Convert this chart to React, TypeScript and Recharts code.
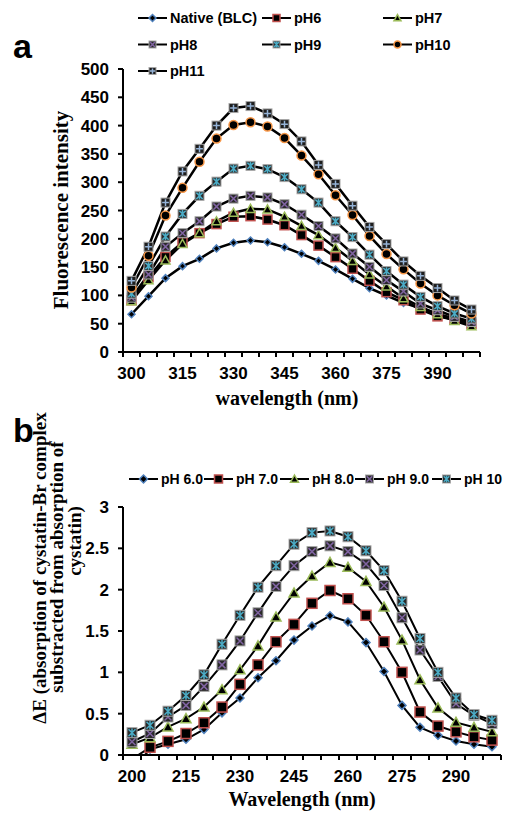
import React from 'react';
import { LineChart, Line, XAxis, YAxis } from 'recharts';

// ---- panel a: fluorescence vs wavelength ----
const wlA = [300, 305, 310, 315, 320, 325, 330, 335, 340, 345, 350, 355, 360, 365, 370, 375, 380, 385, 390, 395, 400];
const nativeA = [66.7, 98.6, 130.5, 151.7, 164.7, 183, 193, 197, 194, 185, 173.5, 161, 145.8, 129.3, 112.7, 99.8, 86.8, 77.3, 67.9, 59, 50];
const ph6A = [91.5, 132, 168, 194, 210, 226, 239, 240, 234, 224, 206.6, 188, 167.6, 147, 125.7, 105.7, 91.5, 75, 63, 57, 50];
const ph7A = [90, 127, 162, 191, 210, 231, 246, 253, 252, 239, 223, 206.6, 184, 161, 137, 116, 95, 79.7, 66.7, 55, 45.5];
const ph8A = [96, 137, 186, 210, 231, 257, 271, 276, 273, 261, 242.6, 222.5, 200.7, 174, 150.5, 127, 107, 85.6, 73.8, 62, 53];
const ph9A = [103, 152, 204, 244, 276, 301, 324, 329, 323, 309, 287.5, 264, 231, 203, 172, 143, 119, 97.4, 81, 68, 59];
const ph10A = [114, 170, 241, 290, 336, 377, 401, 406, 398.5, 378, 347, 314, 277, 242, 205, 173, 146, 121, 100, 82.6, 68];
const ph11A = [125.7, 186, 264, 319, 359, 400, 431, 434.5, 421.5, 402.6, 372, 330.6, 297, 258.5, 221, 190.7, 160, 134.6, 113, 91, 75];
const labelsA = [300, 315, 330, 345, 360, 375, 390];
const yTicksA = [0, 50, 100, 150, 200, 250, 300, 350, 400, 450, 500];

// ---- panel b: delta E vs wavelength ----
const wlB = [200, 205, 210, 215, 220, 225, 230, 235, 240, 245, 250, 255, 260, 265, 270, 275, 280, 285, 290, 295, 300];
const ph60B = [-0.18, 0.07, 0.13, 0.19, 0.31, 0.51, 0.69, 0.935, 1.14, 1.39, 1.56, 1.685, 1.61, 1.36, 1.01, 0.6, 0.335, 0.24, 0.17, 0.13, 0.1];
const ph70B = [-0.05, 0.093, 0.165, 0.26, 0.39, 0.58, 0.855, 1.09, 1.37, 1.58, 1.835, 1.99, 1.89, 1.69, 1.37, 1.0, 0.52, 0.35, 0.28, 0.22, 0.18];
const ph80B = [0.13, 0.21, 0.34, 0.44, 0.58, 0.79, 1.03, 1.32, 1.67, 1.96, 2.165, 2.33, 2.27, 2.1, 1.79, 1.39, 0.91, 0.57, 0.395, 0.335, 0.28];
const ph90B = [0.16, 0.26, 0.46, 0.6, 0.83, 1.09, 1.38, 1.72, 2.04, 2.29, 2.46, 2.53, 2.46, 2.31, 2.05, 1.66, 1.27, 0.95, 0.62, 0.48, 0.38];
const ph100B = [0.27, 0.36, 0.53, 0.72, 0.97, 1.34, 1.69, 2.03, 2.29, 2.55, 2.69, 2.71, 2.64, 2.47, 2.23, 1.86, 1.41, 1.0, 0.69, 0.49, 0.42];
const labelsB = [200, 215, 230, 245, 260, 275, 290];
const yTicksB = [0, 0.5, 1, 1.5, 2, 2.5, 3];

const rowsA = wlA.map((wl, i) => ({
  wl, native: nativeA[i], ph6: ph6A[i], ph7: ph7A[i], ph8: ph8A[i], ph9: ph9A[i], ph10: ph10A[i], ph11: ph11A[i],
}));
const rowsB = wlB.map((wl, i) => ({
  wl, ph60: ph60B[i], ph70: ph70B[i], ph80: ph80B[i], ph90: ph90B[i], ph100: ph100B[i],
}));

// tick marks sit between categories, labels on categories
const boundaries = (wl: number[]) => [wl[0] - 2.5, ...wl.map(w => w + 2.5)];

const seriesA = [
  { key: 'native', name: 'Native (BLC)', kind: 'diamond' },
  { key: 'ph6', name: 'pH6', kind: 'square' },
  { key: 'ph7', name: 'pH7', kind: 'triangle' },
  { key: 'ph8', name: 'pH8', kind: 'xbox' },
  { key: 'ph9', name: 'pH9', kind: 'star' },
  { key: 'ph10', name: 'pH10', kind: 'circle' },
  { key: 'ph11', name: 'pH11', kind: 'plus' },
];
const seriesB = [
  { key: 'ph60', name: 'pH 6.0', kind: 'diamond' },
  { key: 'ph70', name: 'pH 7.0', kind: 'square' },
  { key: 'ph80', name: 'pH 8.0', kind: 'triangle' },
  { key: 'ph90', name: 'pH 9.0', kind: 'xbox' },
  { key: 'ph100', name: 'pH 10', kind: 'star' },
];

const SANS = '"Liberation Sans", Arial, sans-serif';
const SERIF = '"Liberation Serif", "Times New Roman", serif';

const Marker = ({ kind, cx, cy, size }: { kind: string; cx: number; cy: number; size: number }) => {
  const r = size / 2;
  switch (kind) {
    case 'diamond':
      return <polygon points={`${cx},${cy - r} ${cx + r},${cy} ${cx},${cy + r} ${cx - r},${cy}`} fill="#000" stroke="#4F81BD" strokeWidth={1.5} />;
    case 'square':
      return <rect x={cx - r} y={cy - r} width={size} height={size} fill="#000" stroke="#C0504D" strokeWidth={1.5} />;
    case 'triangle':
      return <polygon points={`${cx},${cy - r} ${cx + r},${cy + r * 0.8} ${cx - r},${cy + r * 0.8}`} fill="#000" stroke="#9BBB59" strokeWidth={1.5} />;
    case 'circle':
      return <circle cx={cx} cy={cy} r={r} fill="#000" stroke="#F79646" strokeWidth={1.5} />;
    case 'xbox': {
      const q = r * 0.7;
      return (
        <g>
          <rect x={cx - r} y={cy - r} width={size} height={size} fill="#2a2a2a" stroke="#a6a6a6" strokeWidth={1} />
          <path d={`M${cx - q},${cy - q}L${cx + q},${cy + q}M${cx - q},${cy + q}L${cx + q},${cy - q}`} stroke="#8064A2" strokeWidth={1.5} />
        </g>
      );
    }
    case 'star': {
      const q = r * 0.7;
      return (
        <g>
          <rect x={cx - r} y={cy - r} width={size} height={size} fill="#2a2a2a" stroke="#a6a6a6" strokeWidth={1} />
          <path d={`M${cx - q},${cy - q}L${cx + q},${cy + q}M${cx - q},${cy + q}L${cx + q},${cy - q}M${cx},${cy - r * 0.85}L${cx},${cy + r * 0.85}`} stroke="#4BACC6" strokeWidth={1.5} />
        </g>
      );
    }
    case 'plus': {
      const q = r * 0.75;
      return (
        <g>
          <rect x={cx - r} y={cy - r} width={size} height={size} fill="#1e1e1e" stroke="#a6a6a6" strokeWidth={1} />
          <path d={`M${cx - q},${cy}L${cx + q},${cy}M${cx},${cy - q}L${cx},${cy + q}`} stroke="#95B3D7" strokeWidth={1.5} />
        </g>
      );
    }
    default:
      return null;
  }
};

const makeDot = (kind: string, size: number) => (props: any) => {
  const { cx, cy, index, value } = props;
  if (cx == null || cy == null || Number.isNaN(cy) || value < 0) return <g key={index} />;
  return <Marker key={index} kind={kind} cx={cx} cy={cy} size={size} />;
};

const XTick = (props: any) => {
  const { x, y, payload, labels } = props;
  if (labels.includes(payload.value)) {
    return (
      <text x={x} y={y} dy={22} textAnchor="middle" fontFamily={SANS} fontWeight="bold" fontSize={17} fill="#000">
        {payload.value}
      </text>
    );
  }
  return <line x1={x} x2={x} y1={y - 5} y2={y} stroke="#000" strokeWidth={2} />;
};

const LegendItem = ({ x, y, kind, name, size, fontSize }: any) => (
  <g>
    <line x1={x} x2={x + 29} y1={y} y2={y} stroke="#000" strokeWidth={2} />
    <Marker kind={kind} cx={x + 14.5} cy={y} size={size} />
    <text x={x + 32} y={y} dy="0.36em" fontFamily={SANS} fontWeight="bold" fontSize={fontSize} fill="#000">{name}</text>
  </g>
);

const legendAPos = [
  [138, 18], [262, 18], [383, 18],
  [138, 44.5], [262, 44.5], [383, 44.5],
  [138, 71],
];
const legendBX = [129, 204, 280, 355, 432];

const tickStyle = { fontFamily: SANS, fontWeight: 'bold', fontSize: 17, fill: '#000' } as const;

export default function App() {
  return (
    <div style={{ position: 'absolute', left: 0, top: 0, width: 508, height: 816, background: '#fff' }}>
      <div style={{ position: 'absolute', left: 0, top: 0 }}>
        <LineChart width={508} height={420} data={rowsA} margin={{ top: 69, right: 28, bottom: 38, left: 0 }}>
          <XAxis
            dataKey="wl"
            type="number"
            domain={[297.5, 402.5]}
            ticks={[...boundaries(wlA), ...labelsA]}
            interval={0}
            tick={<XTick labels={labelsA} />}
            tickLine={false}
            tickSize={5}
            tickMargin={0}
            axisLine={{ stroke: '#000', strokeWidth: 2 }}
            height={30}
          />
          <YAxis
            domain={[0, 500]}
            ticks={yTicksA}
            interval={0}
            tick={tickStyle}
            tickSize={5}
            tickMargin={9}
            tickLine={{ stroke: '#000', strokeWidth: 2 }}
            axisLine={{ stroke: '#000', strokeWidth: 2 }}
            width={123}
          />
          {seriesA.map(s => (
            <Line
              key={s.key}
              dataKey={s.key}
              type="linear"
              stroke="#000"
              strokeWidth={2.5}
              dot={makeDot(s.kind, s.kind === 'diamond' ? 7 : 9)}
              activeDot={false}
              isAnimationActive={false}
            />
          ))}
        </LineChart>
      </div>

      <div style={{ position: 'absolute', left: 0, top: 420 }}>
        <LineChart width={508} height={396} data={rowsB} margin={{ top: 87, right: 7, bottom: 31, left: 0 }}>
          <XAxis
            dataKey="wl"
            type="number"
            domain={[197.5, 302.5]}
            ticks={[...boundaries(wlB), ...labelsB]}
            interval={0}
            tick={<XTick labels={labelsB} />}
            tickLine={false}
            tickSize={5}
            tickMargin={0}
            axisLine={{ stroke: '#000', strokeWidth: 2 }}
            height={30}
          />
          <YAxis
            domain={[0, 3]}
            allowDataOverflow
            ticks={yTicksB}
            interval={0}
            tick={tickStyle}
            tickSize={5}
            tickMargin={9}
            tickLine={{ stroke: '#000', strokeWidth: 2 }}
            axisLine={{ stroke: '#000', strokeWidth: 2 }}
            width={123}
          />
          {seriesB.map(s => (
            <Line
              key={s.key}
              dataKey={s.key}
              type="linear"
              stroke="#000"
              strokeWidth={2}
              dot={makeDot(s.kind, s.kind === 'diamond' ? 8 : 10)}
              activeDot={false}
              isAnimationActive={false}
            />
          ))}
        </LineChart>
      </div>

      <svg width={508} height={816} style={{ position: 'absolute', left: 0, top: 0, pointerEvents: 'none' }}>
        <text x={13} y={58} fontFamily={SANS} fontWeight="bold" fontSize={34} fill="#000">a</text>
        <text x={13} y={442} fontFamily={SANS} fontWeight="bold" fontSize={34} fill="#000">b</text>

        {seriesA.map((s, i) => (
          <LegendItem key={s.key} x={legendAPos[i][0]} y={legendAPos[i][1]} kind={s.kind} name={s.name} size={7} fontSize={14.5} />
        ))}
        {seriesB.map((s, i) => (
          <LegendItem key={s.key} x={legendBX[i]} y={479} kind={s.kind} name={s.name} size={8} fontSize={14} />
        ))}

        <text transform="translate(68,210) rotate(-90)" textAnchor="middle" fontFamily={SERIF} fontWeight="bold" fontSize={21} fill="#000">
          Fluorescence intensity
        </text>
        <text x={287} y={405} textAnchor="middle" fontFamily={SERIF} fontWeight="bold" fontSize={20} fill="#000">
          wavelength (nm)
        </text>

        <text transform="translate(46,568) rotate(-90)" textAnchor="middle" fontFamily={SERIF} fontWeight="bold" fontSize={19} fill="#000">
          ΔE (absorption of cystatin-Br complex
        </text>
        <text transform="translate(63,567) rotate(-90)" textAnchor="middle" fontFamily={SERIF} fontWeight="bold" fontSize={19} fill="#000">
          substracted from absorption of
        </text>
        <text transform="translate(81,541) rotate(-90)" textAnchor="middle" fontFamily={SERIF} fontWeight="bold" fontSize={19} fill="#000">
          cystatin)
        </text>
        <text x={302} y={806} textAnchor="middle" fontFamily={SERIF} fontWeight="bold" fontSize={20} fill="#000">
          Wavelength (nm)
        </text>
      </svg>
    </div>
  );
}
